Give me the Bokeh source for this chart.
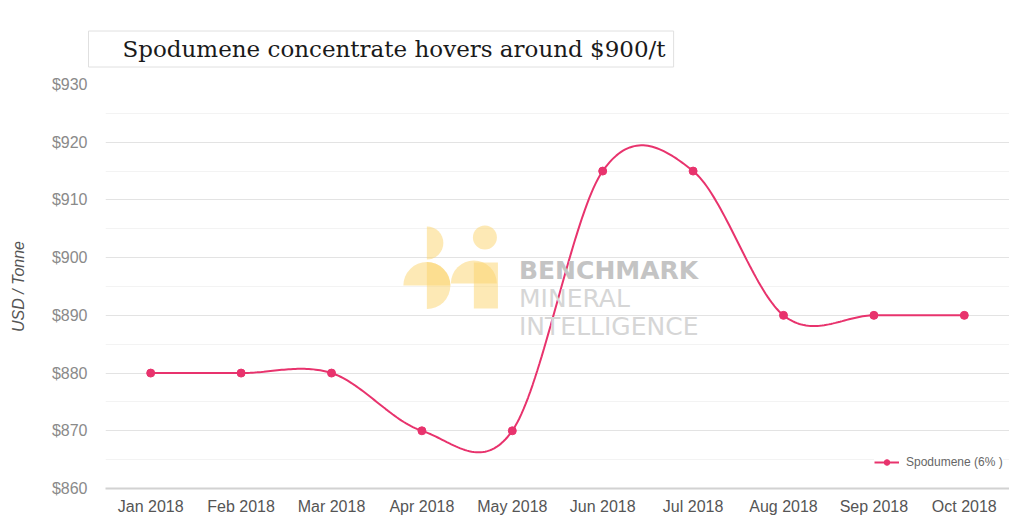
import numpy as np
from bokeh.plotting import figure
from bokeh.models import (Legend, LegendItem, Label, FixedTicker, Range1d)
from bokeh.embed import file_html
from bokeh.resources import INLINE

# ---------------- data ----------------
months = ["Jan 2018", "Feb 2018", "Mar 2018", "Apr 2018", "May 2018",
          "Jun 2018", "Jul 2018", "Aug 2018", "Sep 2018", "Oct 2018"]
prices = [880, 880, 880, 870, 870, 915, 915, 890, 890, 890]
y_ticks = [860, 870, 880, 890, 900, 910, 920, 930]
y_minor = [865, 875, 885, 895, 905, 915, 925]
title_text = "Spodumene concentrate hovers around $900/t"
series_name = "Spodumene (6% )"
y_label = "USD / Tonne"
watermark_lines = ["BENCHMARK", "MINERAL", "INTELLIGENCE"]

LINE = "#e8336d"
x = np.arange(len(months), dtype=float)
y = np.array(prices, dtype=float)


def catmull_rom(xs, ys, n=40):
    """Smooth spline through the data points (cardinal / Catmull-Rom)."""
    m = np.zeros_like(ys)
    m[1:-1] = (ys[2:] - ys[:-2]) / 2.0
    ox, oy = [], []
    for i in range(len(xs) - 1):
        t = np.linspace(0, 1, n, endpoint=(i == len(xs) - 2))
        h00 = 2 * t**3 - 3 * t**2 + 1
        h10 = t**3 - 2 * t**2 + t
        h01 = -2 * t**3 + 3 * t**2
        h11 = t**3 - t**2
        dx = xs[i + 1] - xs[i]
        ox.extend(xs[i] + t * dx)
        oy.extend(h00 * ys[i] + h10 * m[i] + h01 * ys[i + 1] + h11 * m[i + 1])
    return np.array(ox), np.array(oy)


sx, sy = catmull_rom(x, y)

p = figure(width=1009, height=527, output_backend="svg", toolbar_location=None,
           x_range=Range1d(-0.5, len(months) - 0.5), y_range=Range1d(860, 930),
           min_border_left=105, min_border_top=84, min_border_bottom=39,
           min_border_right=0, outline_line_color=None)

# ---------------- title ----------------
p.title.text = title_text
p.title.align = "left"
p.title.offset = -17
p.title.text_font = "DejaVu Serif"
p.title.text_font_size = "23px"
p.title.text_font_style = "normal"
p.title.text_color = "#1a1a1a"
p.title.border_line_color = "#e0e0e0"
p.title.background_fill_color = "white"
p.title.padding = (34, 8, 5, 5)
p.title.standoff = 35

# ---------------- watermark ----------------
YEL = "#fbd36b"
p.wedge(x=3.055, y=902.54, radius=16.5, radius_units="screen",
        start_angle=-np.pi / 2, end_angle=np.pi / 2,
        fill_color=YEL, fill_alpha=0.5, line_color=None)
p.wedge(x=3.055, y=895.17, radius=23.5, radius_units="screen",
        start_angle=0, end_angle=np.pi,
        fill_color=YEL, fill_alpha=0.5, line_color=None)
p.wedge(x=3.055, y=895.17, radius=23.5, radius_units="screen",
        start_angle=-np.pi / 2, end_angle=np.pi / 2,
        fill_color=YEL, fill_alpha=0.5, line_color=None)
p.scatter(x=[3.697], y=[903.49], size=24, marker="circle",
          fill_color=YEL, fill_alpha=0.5, line_color=None)
p.wedge(x=3.575, y=895.52, radius=23, radius_units="screen",
        start_angle=0, end_angle=np.pi,
        fill_color=YEL, fill_alpha=0.5, line_color=None)
p.quad(left=3.575, right=3.841, top=899.16, bottom=891.19,
       fill_color=YEL, fill_alpha=0.5, line_color=None)

for txt, yy, style, col in zip(watermark_lines, [897.77, 892.92, 888.07],
                               ["bold", "normal", "normal"],
                               ["#c4c4c4", "#d6d6d6", "#d6d6d6"]):
    p.add_layout(Label(x=4.074, y=yy, text=txt, text_font="DejaVu Sans",
                       text_font_style=style, text_font_size="25px",
                       text_color=col, text_baseline="middle", text_align="left"))

# ---------------- series ----------------
line_r = p.line(sx, sy, line_color=LINE, line_width=2)
dot_r = p.scatter(x, y, size=8, marker="circle", fill_color=LINE, line_color=LINE)

legend = Legend(items=[LegendItem(label=series_name, renderers=[line_r, dot_r])],
                location=(769, 19), border_line_color=None,
                background_fill_color="white", background_fill_alpha=1.0,
                label_text_font="Liberation Sans", label_text_font_size="12px",
                label_text_color="#666666", glyph_width=25, glyph_height=14,
                label_standoff=7, padding=3, margin=0, spacing=0)
p.add_layout(legend)

# ---------------- axes ----------------
p.xaxis.ticker = FixedTicker(ticks=list(x))
p.xaxis.major_label_overrides = {i: m for i, m in enumerate(months)}
p.xaxis.axis_line_color = "#d2d2d2"
p.xaxis.axis_line_width = 2
p.xaxis.major_tick_line_color = None
p.xaxis.minor_tick_line_color = None
p.xaxis.major_label_standoff = 3
p.xaxis.major_label_text_font = "Liberation Sans"
p.xaxis.major_label_text_font_size = "16px"
p.xaxis.major_label_text_color = "#555555"

p.yaxis.ticker = FixedTicker(ticks=y_ticks, minor_ticks=y_minor)
p.yaxis.major_label_overrides = {t: "$%d" % t for t in y_ticks}
p.yaxis.axis_line_color = None
p.yaxis.major_tick_line_color = None
p.yaxis.minor_tick_line_color = None
p.yaxis.major_label_standoff = 12
p.yaxis.major_label_text_font = "Liberation Sans"
p.yaxis.major_label_text_font_size = "16px"
p.yaxis.major_label_text_color = "#8a8a8a"
p.yaxis.axis_label = y_label
p.yaxis.axis_label_text_font = "Liberation Sans"
p.yaxis.axis_label_text_font_style = "italic"
p.yaxis.axis_label_text_font_size = "16px"
p.yaxis.axis_label_text_color = "#555555"
p.yaxis.axis_label_standoff = 22

p.xgrid.grid_line_color = None
p.ygrid.grid_line_color = "#e3e3e3"
p.ygrid.minor_grid_line_color = "#f3f3f3"

open("out.html", "w").write(file_html(p, INLINE))
